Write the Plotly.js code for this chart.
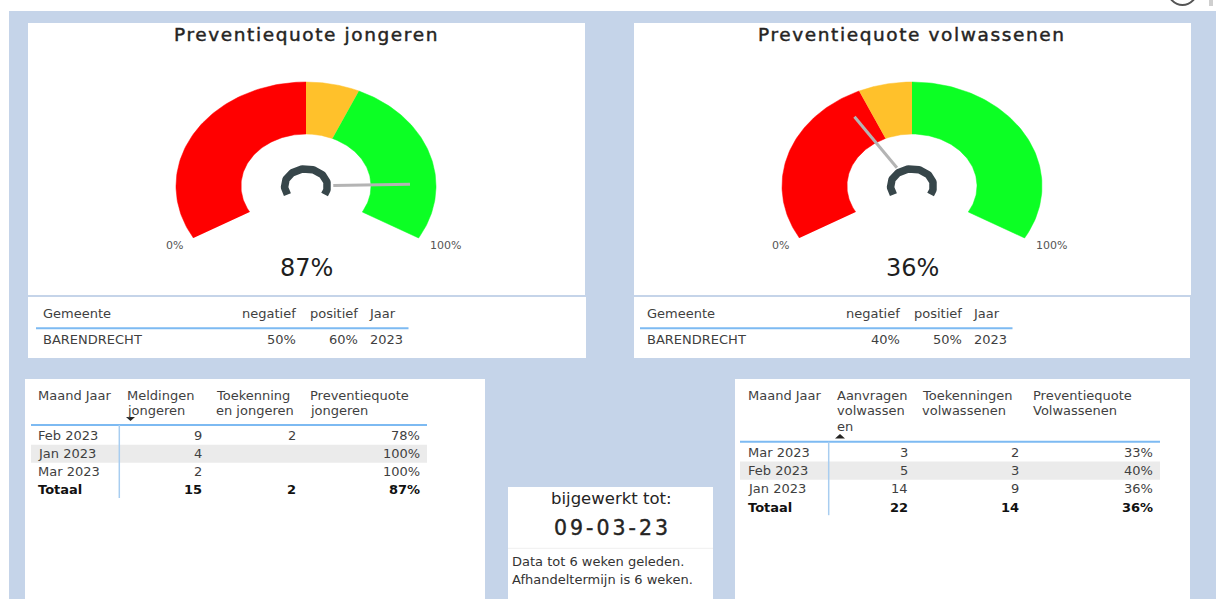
<!DOCTYPE html>
<html><head><meta charset="utf-8">
<script src="https://cdn.plot.ly/plotly-3.0.1.min.js"></script>
<style>html,body{margin:0;padding:0;background:#fff;overflow:hidden}#chart{width:1216px;height:599px}</style>
</head><body><div id="chart"></div>
<script>
// ---------- data ----------
const gaugeTitles = ["Preventiequote jongeren", "Preventiequote volwassenen"];
const gaugeValues = [0.87, 0.36];
const gaugeNegatief = [0.50, 0.40];
const gaugePositief = [0.60, 0.50];
const gaugeMinLabel = "0%";
const gaugeMaxLabel = "100%";
const gemeenteNames = ["BARENDRECHT", "BARENDRECHT"];
const jaarValues = [2023, 2023];
const smallHeaders = ["Gemeente", "negatief", "positief", "Jaar"];

const jongHeaders = [["Maand Jaar"], ["Meldingen", "jongeren"], ["Toekenning", "en jongeren"], ["Preventiequote", "jongeren"]];
const jongMonths = ["Feb 2023", "Jan 2023", "Mar 2023"];
const jongMeldingen = [9, 4, 2];
const jongToekenningen = [2, null, null];
const jongQuote = [78, 100, 100];
const jongTotals = ["Totaal", 15, 2, 87];

const volHeaders = [["Maand Jaar"], ["Aanvragen", "volwassen", "en"], ["Toekenningen", "volwassenen"], ["Preventiequote", "Volwassenen"]];
const volMonths = ["Mar 2023", "Feb 2023", "Jan 2023"];
const volAanvragen = [3, 5, 14];
const volToekenningen = [2, 3, 9];
const volQuote = [33, 40, 36];
const volTotals = ["Totaal", 22, 14, 36];

const updatedLabel = "bijgewerkt tot:";
const updatedDate = "09-03-23";
const noteLines = ["Data tot 6 weken geleden.", "Afhandeltermijn is 6 weken."];

// ---------- styling ----------
const W = 1216, H = 599;
const FONT = "DejaVu Sans";
const BG = "#c5d4e9";
const RED = "#ff0000", ORANGE = "#ffc12b", GREEN = "#0cff24";
const TXT = "#3f3f3f";
const px = x => x / W, py = y => 1 - y / H;
const shapes = [], annotations = [], traces = [];

function rect(x0, y0, x1, y1, fill, layer) {
  shapes.push({type: 'rect', xref: 'paper', yref: 'paper', x0: px(x0), x1: px(x1), y0: py(y1), y1: py(y0),
    fillcolor: fill, line: {width: 0}, layer: layer || 'below'});
}
function line(x0, y0, x1, y1, color, w) {
  shapes.push({type: 'line', xref: 'paper', yref: 'paper', x0: px(x0), x1: px(x1), y0: py(y0), y1: py(y1),
    line: {color: color, width: w}, layer: 'above'});
}
function txt(x, y, text, anchor, size, color, extra) {
  annotations.push(Object.assign({xref: 'paper', yref: 'paper', x: px(x), y: py(y), text: String(text), showarrow: false,
    xanchor: anchor || 'left', yanchor: 'middle', borderpad: 0,
    font: {family: FONT, size: size || 13, color: color || TXT}}, extra || {}));
}
function tri(x0, y0, x1, y1, up) {
  const xm = (x0 + x1) / 2;
  const p = up
    ? `M ${px(x0)} ${py(y1)} L ${px(x1)} ${py(y1)} L ${px(xm)} ${py(y0)} Z`
    : `M ${px(x0)} ${py(y0)} L ${px(x1)} ${py(y0)} L ${px(xm)} ${py(y1)} Z`;
  shapes.push({type: 'path', xref: 'paper', yref: 'paper', path: p, fillcolor: '#252423', line: {width: 0}, layer: 'above'});
}

// page background
rect(9, 11, W + 2, H + 2, BG);
// top right icon fragments
shapes.push({type: 'circle', xref: 'paper', yref: 'paper', x0: px(1168), x1: px(1197), y0: py(5), y1: py(-25),
  line: {color: '#555', width: 2}, fillcolor: 'rgba(0,0,0,0)', layer: 'above'});
rect(1209, -2, 1213, 6, '#cfcfcf', 'above');

// panels
rect(28, 23, 585, 295, '#fff');
rect(28, 297, 586, 358, '#fff');
rect(634, 23, 1191, 295, '#fff');
rect(634, 297, 1190, 358, '#fff');
rect(25, 379, 485, H + 2, '#fff');
rect(735, 379, 1190, H + 2, '#fff');
rect(508, 487, 713, H + 2, '#fff');

// ---------- gauges ----------
const gaugeCX = [306, 912], gaugeCY = 186, RX = 130, RY = 104, SPAN = 1.6;
const layoutAxes = {};
const ang = f => (-120 + 240 * f) * Math.PI / 180;
function arc(f0, f1, r, n) {
  const xs = [], ys = [];
  for (let k = 0; k <= n; k++) { const a = ang(f0 + (f1 - f0) * k / n); xs.push(r * Math.sin(a)); ys.push(r * Math.cos(a)); }
  return [xs, ys];
}
gaugeValues.forEach((val, i) => {
  const xa = 'x' + (i + 2), ya = 'y' + (i + 2);
  const cx = gaugeCX[i];
  layoutAxes['xaxis' + (i + 2)] = {domain: [px(cx - SPAN * RX), px(cx + SPAN * RX)], range: [-SPAN, SPAN], visible: false, anchor: ya, fixedrange: true};
  layoutAxes['yaxis' + (i + 2)] = {domain: [py(gaugeCY + SPAN * RY), py(gaugeCY - SPAN * RY)], range: [-SPAN, SPAN], visible: false, anchor: xa, fixedrange: true};
  const bands = [[0, gaugeNegatief[i], RED], [gaugeNegatief[i], gaugePositief[i], ORANGE], [gaugePositief[i], 1, GREEN]];
  bands.forEach(([f0, f1, c]) => {
    const o = arc(f0, f1, 1, 80), inn = arc(f1, f0, 0.5, 80);
    traces.push({type: 'scatter', mode: 'lines', xaxis: xa, yaxis: ya, x: o[0].concat(inn[0]), y: o[1].concat(inn[1]),
      fill: 'toself', fillcolor: c, line: {width: 0.5, color: c}, hoverinfo: 'skip', showlegend: false});
  });
  // centre hub
  const hub = arc(0, 1, 0.165, 80);
  traces.push({type: 'scatter', mode: 'lines', xaxis: xa, yaxis: ya, x: hub[0], y: hub[1],
    line: {width: 7.5, color: '#37464a'}, hoverinfo: 'skip', showlegend: false});
  // needle
  const a = ang(val);
  traces.push({type: 'scatter', mode: 'lines', xaxis: xa, yaxis: ya,
    x: [0.21 * Math.sin(a), 0.8 * Math.sin(a)], y: [0.21 * Math.cos(a), 0.8 * Math.cos(a)],
    line: {width: 3, color: '#b4b4b4'}, hoverinfo: 'skip', showlegend: false});
  // labels
  annotations.push({xref: xa, yref: ya, x: -1.01, y: -0.57, text: gaugeMinLabel, showarrow: false, font: {family: FONT, size: 11, color: '#555'}});
  annotations.push({xref: xa, yref: ya, x: 1.07, y: -0.57, text: gaugeMaxLabel, showarrow: false, font: {family: FONT, size: 11, color: '#555'}});
  annotations.push({xref: xa, yref: ya, x: 0, y: -0.79, text: Math.round(val * 100) + '%', showarrow: false, font: {family: FONT, size: 24, color: '#1e1e1e'}});
  // title
  txt(cx, 34, `<span style="letter-spacing:1.6px;stroke:#252423;stroke-width:0.45px">${gaugeTitles[i]}</span>`, 'center', 18.5, '#252423');

  // small table under gauge
  const dx = i * 604;
  txt(42 + dx, 313, smallHeaders[0], 'left');
  txt(297 + dx, 313, smallHeaders[1], 'right');
  txt(359 + dx, 313, smallHeaders[2], 'right');
  txt(368 + dx, 313, smallHeaders[3], 'left');
  line(36 + dx, 328.3, 408.5 + dx, 328.3, '#7dbaf2', 2);
  txt(42 + dx, 339, gemeenteNames[i], 'left');
  txt(297 + dx, 339, Math.round(gaugeNegatief[i] * 100) + '%', 'right');
  txt(359 + dx, 339, Math.round(gaugePositief[i] * 100) + '%', 'right');
  txt(369 + dx, 339, jaarValues[i], 'left');
});

// ---------- detail tables ----------
function detailTable(cfg) {
  const {headers, headX, valRight, headY, lineY, rowY, rowStep, grayRow, vLineX, arrow, months, cols, totals, x0, x1} = cfg;
  headers.forEach((h, c) => h.forEach((ln, k) => txt(headX[c], headY + k * 15.7, ln, 'left')));
  rect(x0, rowY + grayRow * rowStep - rowStep / 2, x1, rowY + grayRow * rowStep + rowStep / 2, '#ebebeb', 'below');
  line(x0, lineY, x1, lineY, '#7dbaf2', 2);
  line(vLineX, lineY, vLineX, rowY + 3 * rowStep + 8, '#a8cdf0', 1.5);
  tri(arrow[0], arrow[1], arrow[2], arrow[3], arrow[4]);
  months.forEach((m, r) => {
    const y = rowY + r * rowStep;
    txt(headX[0], y, m, 'left');
    cols.forEach((col, c) => {
      const v = col.vals[r];
      if (v !== null && v !== undefined) txt(valRight[c], y, v + (col.pct ? '%' : ''), 'right');
    });
  });
  const ty = rowY + months.length * rowStep;
  txt(headX[0], ty, '<b>' + totals[0] + '</b>', 'left', 13, '#111');
  cols.forEach((col, c) => txt(valRight[c], ty, '<b>' + totals[c + 1] + (col.pct ? '%' : '') + '</b>', 'right', 13, '#111'));
}
detailTable({headers: jongHeaders, headX: [37, 126, 215, 309], valRight: [203, 297, 421], headY: 395, lineY: 425,
  rowY: 435.7, rowStep: 18.1, grayRow: 1, vLineX: 119.3, arrow: [126, 417, 135, 421, false],
  months: jongMonths, cols: [{vals: jongMeldingen}, {vals: jongToekenningen}, {vals: jongQuote, pct: true}],
  totals: jongTotals, x0: 31, x1: 427});
detailTable({headers: volHeaders, headX: [747, 836, 921, 1032], valRight: [909, 1020, 1154], headY: 395, lineY: 441.7,
  rowY: 452.3, rowStep: 18.3, grayRow: 1, vLineX: 828.7, arrow: [835, 434, 845, 438.5, true],
  months: volMonths, cols: [{vals: volAanvragen}, {vals: volToekenningen}, {vals: volQuote, pct: true}],
  totals: volTotals, x0: 740, x1: 1160});

// ---------- date card ----------
txt(611, 498, updatedLabel, 'center', 16.5, '#252423');
txt(612, 528, `<span style="letter-spacing:3px;stroke:#252423;stroke-width:0.4px">${updatedDate}</span>`, 'center', 20.5, '#252423');
line(508, 548.3, 713, 548.3, '#efefef', 1);
noteLines.forEach((t, k) => txt(511, 561.7 + k * 17.4, t, 'left', 13, '#333'));

const layout = Object.assign({
  width: W, height: H, margin: {l: 0, r: 0, t: 0, b: 0},
  paper_bgcolor: '#ffffff', plot_bgcolor: 'rgba(0,0,0,0)',
  showlegend: false, shapes: shapes, annotations: annotations
}, layoutAxes);

Plotly.newPlot('chart', traces, layout, {staticPlot: true, displayModeBar: false});
</script></body></html>
